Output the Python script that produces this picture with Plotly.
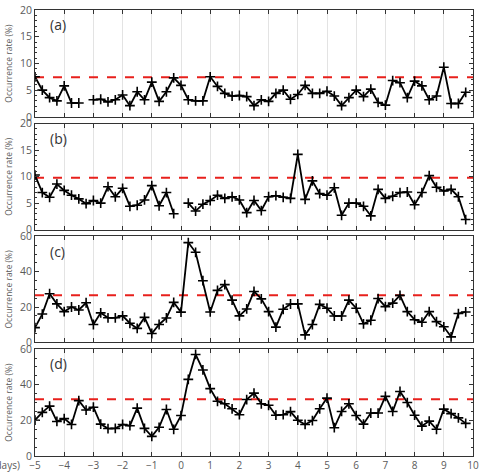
import plotly.graph_objects as go

days = [-5 + 0.25 * i for i in range(60)]

rate_a = [7.5, 5.0, 3.6, 3.0, 5.8, 2.6, 2.6, None, 3.2, 3.3, 2.8, 3.2, 4.1, 2.1, 4.7, 3.2,
          6.5, 2.9, 4.7, 7.3, 5.9, 3.2, 3.0, 3.0, 7.5, 5.7, 4.4, 3.9, 4.0, 3.8,
          2.1, 3.2, 2.9, 4.4, 5.0, 3.3, 4.2, 5.9, 4.4, 4.4, 4.8, 3.9, 2.1, 3.6, 5.0,
          3.8, 5.2, 2.7, 2.2, 6.8, 6.4, 3.6, 6.7, 5.8, 3.2, 3.9, 9.3, 2.5, 2.5, 4.6]
rate_b = [10.3, 7.0, 6.1, 8.6, 7.4, 6.5, 5.8, 4.9, 5.5, 5.0, 8.1, 6.2, 7.8, 4.4, 4.6, 5.6,
          8.3, 4.5, 7.0, 3.0, None, 5.0, 3.5, 4.8, 5.5, 6.5, 5.9, 6.2, 5.6, 3.2,
          5.5, 3.6, 6.2, 6.4, 6.1, 5.9, 14.2, 5.7, 9.2, 6.8, 6.5, 7.9, 2.7, 5.0, 5.0,
          4.4, 2.6, 7.6, 5.9, 6.3, 7.0, 7.1, 4.7, 7.0, 10.2, 8.0, 7.3, 7.6, 6.2, 1.9]
rate_c = [8.3, 16.0, 27.5, 21.8, 17.4, 20.0, 18.3, 22.4, 10.1, 16.7, 13.9, 13.9, 15.0, 10.8,
          7.9, 14.1, 5.0, 10.1, 13.8, 22.6, 17.1, 56.5, 51.0, 34.9, 17.2, 29.4, 32.7,
          23.9, 15.0, 18.9, 28.8, 24.6, 17.4, 8.6, 18.7, 21.7, 21.8, 4.2, 10.1, 21.5,
          19.3, 14.9, 14.9, 23.9, 19.3, 10.5, 12.5, 24.8, 20.2, 22.2, 26.6, 17.4, 12.8,
          11.4, 17.4, 11.7, 8.8, 3.1, 16.3, 17.2]
rate_d = [20.1, 24.5, 28.0, 19.4, 21.0, 17.7, 31.1, 25.8, 27.4, 17.9, 15.4, 15.5, 17.7, 17.0,
          26.9, 15.5, 11.0, 16.1, 26.1, 15.0, 22.7, 43.0, 57.0, 48.3, 37.8, 30.7, 29.3,
          26.5, 23.2, 31.7, 35.3, 29.3, 28.5, 22.9, 23.2, 24.9, 20.1, 17.7, 19.9, 26.5,
          32.5, 15.9, 25.0, 29.3, 22.7, 17.9, 24.1, 24.1, 33.5, 25.0, 36.2, 30.0, 22.9,
          16.8, 19.6, 15.0, 26.3, 23.8, 21.4, 18.3]

means = [7.4, 9.8, 26.6, 31.8]
panel_labels = ["(a)", "(b)", "(c)", "(d)"]
y_ranges = [[0, 20], [0, 20], [0, 60], [0, 60]]
y_dticks = [5, 5, 20, 20]
y_minor = [1, 1, 5, 5]
x_ticks = [-5, -4, -3, -2, -1, 0, 1, 2, 3, 4, 5, 6, 7, 8, 9, 10]

series = [rate_a, rate_b, rate_c, rate_d]

H = 475
top_m, bot_m = 3, 13
ph = H - top_m - bot_m
panels_px = [(3, 113), (120, 229), (236, 345), (352, 462)]
domains = [[(H - bot_m - b) / ph, (H - bot_m - t) / ph] for t, b in panels_px]
domains[0][1] = 1.0
domains[3][0] = 0.0

FONT = "Open Sans"
GRAY = "#5a5a5a"

fig = go.Figure()
for i, vals in enumerate(series):
    n = i + 1
    xa = "x" if n == 1 else f"x{n}"
    ya = "y" if n == 1 else f"y{n}"
    fig.add_trace(go.Scatter(
        x=[-5, 10], y=[means[i], means[i]], mode="lines",
        line=dict(color="#e8201c", width=2, dash="dash"),
        xaxis=xa, yaxis=ya, showlegend=False, hoverinfo="skip"))
    fig.add_trace(go.Scatter(
        x=days, y=vals, mode="lines+markers", connectgaps=False,
        line=dict(color="black", width=1.8),
        marker=dict(symbol="cross-thin", size=7, line=dict(color="black", width=1.6)),
        xaxis=xa, yaxis=ya, showlegend=False))

layout = dict(
    width=482, height=475,
    margin=dict(l=35, r=6, t=top_m, b=bot_m),
    paper_bgcolor="white", plot_bgcolor="white",
    font=dict(family=FONT, size=10, color=GRAY),
    annotations=[],
)
for i in range(4):
    n = i + 1
    xk = "xaxis" if n == 1 else f"xaxis{n}"
    yk = "yaxis" if n == 1 else f"yaxis{n}"
    ya = "y" if n == 1 else f"y{n}"
    layout[xk] = dict(
        range=[-5, 10], tickvals=x_ticks, showticklabels=(n == 4),
        showgrid=True, gridcolor="#e3e3e3", gridwidth=1,
        showline=True, linecolor="#333333", linewidth=1, mirror="ticks",
        ticks="inside", ticklen=4, tickcolor="#333333",
        zeroline=False, anchor=ya,
        tickfont=dict(family=FONT, size=10, color=GRAY),
    )
    if n != 1:
        layout[xk]["matches"] = "x"
    layout[yk] = dict(
        domain=domains[i], range=y_ranges[i], dtick=y_dticks[i], tick0=0,
        showgrid=False, zeroline=False,
        showline=True, linecolor="#333333", linewidth=1, mirror="ticks",
        ticks="inside", ticklen=4, tickcolor="#333333",
        minor=dict(dtick=y_minor[i], ticks="inside", ticklen=2, tickcolor="#333333"),
        anchor="x" if n == 1 else f"x{n}",
        tickfont=dict(family=FONT, size=10.5, color=GRAY),
    )
    layout["annotations"].append(dict(
        text=panel_labels[i], xref=f"{'x' if n == 1 else 'x' + str(n)} domain",
        yref=f"{ya} domain", x=0.03, y=0.97, xanchor="left", yanchor="top",
        showarrow=False, font=dict(family=FONT, size=14, color="#333333")))
    layout["annotations"].append(dict(
        text="Occurrence rate (%)", textangle=-90, xref="paper", yref=f"{ya} domain",
        x=-0.0612, y=0.5, xanchor="center", yanchor="middle", showarrow=False,
        font=dict(family=FONT, size=8.5, color=GRAY)))

layout["annotations"].append(dict(
    text="Time (days)", xref="paper", yref="paper", x=(22 - 35) / 441,
    y=(462 - 471) / ph, xanchor="right", yanchor="middle", showarrow=False,
    font=dict(family=FONT, size=10, color=GRAY)))

fig.update_layout(**layout)
fig.write_html("out.html")
